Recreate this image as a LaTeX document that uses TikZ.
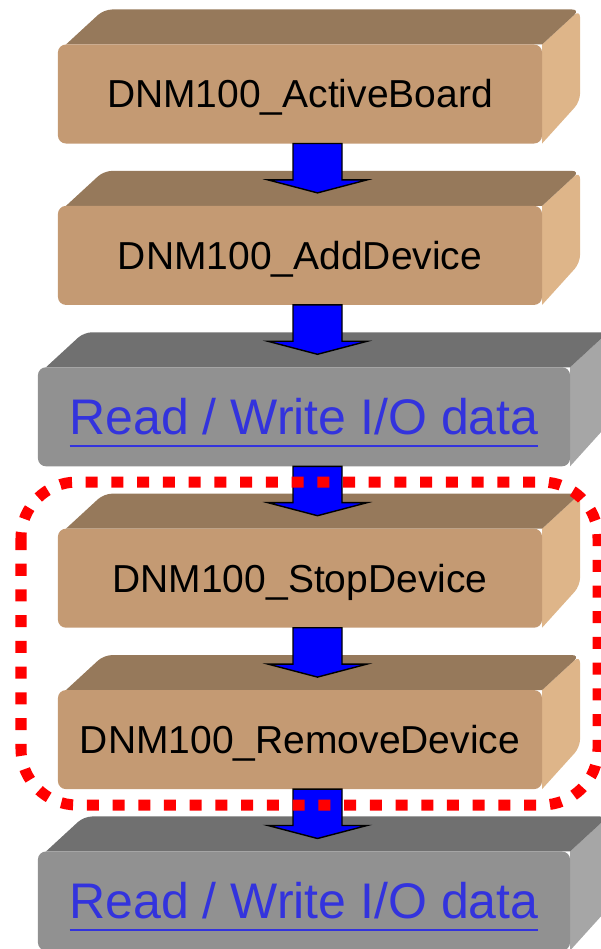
\documentclass[tikz,border=0pt]{standalone}
\usepackage{fontspec}
\setmainfont{Liberation Sans}
\usepackage{xcolor}
\usetikzlibrary{calc}
\usetikzlibrary{backgrounds}
\definecolor{tanfront}{RGB}{196,154,115}
\definecolor{tantop}{RGB}{150,121,91}
\definecolor{tanside}{RGB}{222,181,137}
\definecolor{greyfront}{RGB}{145,145,145}
\definecolor{greytop}{RGB}{112,112,112}
\definecolor{greyside}{RGB}{166,166,166}
\definecolor{linkblue}{RGB}{51,51,221}
\definecolor{myred}{RGB}{255,0,0}
\newcommand{\rwlink}[1]{\setbox0\hbox{#1}\rlap{\rule[-0.3cm]{\wd0}{0.05cm}}\box0}

\begin{document}
\begin{tikzpicture}[x=0.025cm, y=-0.025cm,
  slab/.style={rounded corners=0.2cm, inner sep=0pt, outer sep=0pt,
    minimum height=2.475cm, text depth=0pt},
  tanslab/.style={slab, fill=tanfront, minimum width=12.1cm,
    font=\fontsize{27.74}{30}\selectfont, text height=19.86pt},
  greyslab/.style={slab, fill=greyfront, minimum width=13.3cm, text=linkblue,
    font=\fontsize{35.57}{40}\selectfont, text height=25.47pt},
  blockarrow/.style={fill=blue, draw=black, line width=1pt, line join=miter},
  redframe/.style={draw=myred, line width=0.275cm, dash pattern=on 0.3cm off 0.343cm,
    rounded corners=1.4cm}]

  \useasboundingbox (0,0) rectangle (600,949);

  \node[tanslab] (active) at (300,94) {DNM100\_ActiveBoard};
  \node[tanslab] (adddev) at (300,255.4) {DNM100\_AddDevice};
  \node[greyslab] (rwfirst) at (304,416.8) {\rwlink{Read / Write I/O data}};
  \node[tanslab] (stopdev) at (300,578.2) {DNM100\_StopDevice};
  \node[tanslab] (removedev) at (300,739.6) {DNM100\_RemoveDevice};
  \node[greyslab] (rwsecond) at (304,901) {\rwlink{Read / Write I/O data}};

  \begin{scope}[on background layer]
  \foreach \nm/\kind in {active/tan, adddev/tan, rwfirst/grey, stopdev/tan, removedev/tan, rwsecond/grey}{
    \fill[\kind side] (\nm.north east) [rounded corners=0.2cm] -- ++(38,-35)
      -- ($(\nm.south east)+(38,-42)$) [sharp corners] -- (\nm.south east) -- cycle;
    \fill[\kind top] ($(\nm.north west)+(8,0)$) [rounded corners=0.2cm] -- ++(38,-35)
      -- ($(\nm.north east)+(38,-35)$) [sharp corners] -- (\nm.north east) -- cycle;
  }
  \end{scope}

  \coordinate (axis) at (317.5,0);
  \foreach \a/\b in {active/adddev, adddev/rwfirst, rwfirst/stopdev, stopdev/removedev, removedev/rwsecond}{
    \draw[blockarrow] ($(\a.south -| axis)+(-24.5,0)$) -- ($(\b.north -| axis)+(-24.5,-26)$)
      -- ++(-25,0) -- ($(\b.north -| axis)+(0,-13)$) -- ($(\b.north -| axis)+(49.5,-26)$)
      -- ++(-25,0) -- ($(\a.south -| axis)+(24.5,0)$) -- cycle;
  }

  \draw[redframe] (21,482) rectangle (598,805);

\end{tikzpicture}
\end{document}
